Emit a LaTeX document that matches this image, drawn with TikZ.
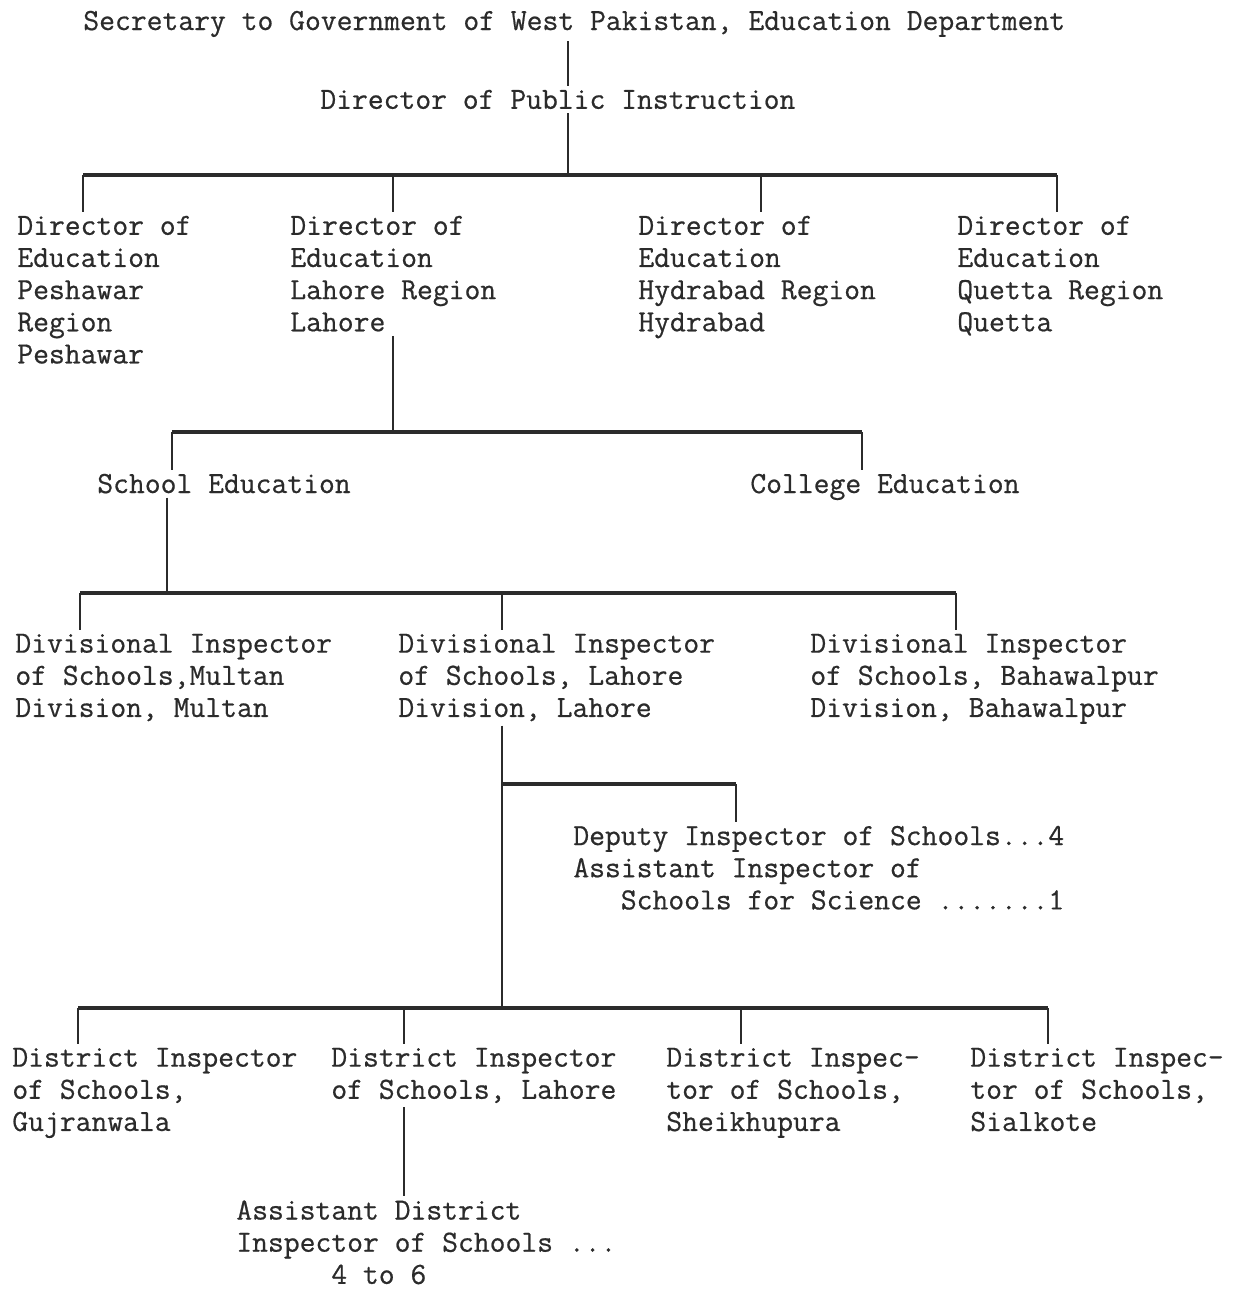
\documentclass[tikz,border=0pt]{standalone}
\usepackage{fontspec}
\setmonofont[FakeBold=0.6]{Latin Modern Mono}
\usepackage{xcolor}
\usepackage{tikz}
\usetikzlibrary{calc}
\definecolor{ink}{HTML}{2B2B2B}
\newcommand{\typefont}{\fontsize{17.5}{18.3}\selectfont\ttfamily}
\tikzset{
  post/.style={anchor=north west,align=left,inner xsep=0pt,inner ysep=0.08cm,
               font=\typefont,text=ink},
  link/.style={draw=ink,line width=0.8pt},
  bar/.style={draw=ink,line width=2pt}
}

\begin{document}
\begin{tikzpicture}[x=0.02cm,y=-0.02cm]
  \useasboundingbox (0,0) rectangle (1241,1292);
  % posts
  \node[post] (sec) at (83,6.5) {Secretary to Government of West Pakistan, Education Department};
  \node[post] (dpi) at (320,85.5) {Director of Public Instruction};
  \node[post] (dpesh) at (17,211.5) {Director of\\Education\\Peshawar\\Region\\Peshawar};
  \node[post] (dlah) at (290,211.5) {Director of\\Education\\Lahore Region\\Lahore};
  \node[post] (dhyd) at (638,211.5) {Director of\\Education\\Hydrabad Region\\Hydrabad};
  \node[post] (dque) at (957,211.5) {Director of\\Education\\Quetta Region\\Quetta};
  \node[post] (school) at (97,469.5) {School Education};
  \node[post] (college) at (750,469.5) {College Education};
  \node[post] (divmul) at (15,629.5) {Divisional Inspector\\of Schools,Multan\\Division, Multan};
  \node[post] (divlah) at (398,629.5) {Divisional Inspector\\of Schools, Lahore\\Division, Lahore};
  \node[post] (divbah) at (810,629.5) {Divisional Inspector\\of Schools, Bahawalpur\\Division, Bahawalpur};
  \node[post] (deputy) at (573,821.5) {Deputy Inspector of Schools...4\\Assistant Inspector of\\\phantom{Ass}Schools for Science .......1};
  \node[post] (distguj) at (12,1043.5) {District Inspector\\of Schools,\\Gujranwala};
  \node[post] (distlah) at (331,1043.5) {District Inspector\\of Schools, Lahore};
  \node[post] (distshe) at (666,1043.5) {District Inspec-\\tor of Schools,\\Sheikhupura};
  \node[post] (distsia) at (970,1043.5) {District Inspec-\\tor of Schools,\\Sialkote};
  \node[post] (adist) at (236,1196) {Assistant District\\Inspector of Schools ...\\\phantom{Assist}4 to 6};
  % top line
  \coordinate (j1) at (568,175);
  \draw[link] (sec.south -| j1) -- (dpi.north -| j1);
  \draw[link] (dpi.south -| j1) -- (j1);
  \foreach \x/\n in {83/dpesh,393/dlah,761/dhyd,1057/dque}{
    \coordinate (t-\n) at (\x,175);
    \draw[link] (t-\n) -- (t-\n |- \n.north);
  }
  \draw[bar] (t-dpesh) -- (t-dque);
  % school / college
  \coordinate (j2) at (393,432);
  \draw[link] (dlah.south -| j2) -- (j2);
  \foreach \x/\n in {172/school,862/college}{
    \coordinate (t-\n) at (\x,432);
    \draw[link] (t-\n) -- (t-\n |- \n.north);
  }
  \draw[bar] (t-school) -- (t-college);
  % divisions
  \coordinate (j3) at (167,593);
  \draw[link] (school.south -| j3) -- (j3);
  \foreach \x/\n in {80/divmul,502/divlah,956/divbah}{
    \coordinate (t-\n) at (\x,593);
    \draw[link] (t-\n) -- (t-\n |- \n.north);
  }
  \draw[bar] (t-divmul) -- (t-divbah);
  % deputy and districts
  \coordinate (j4) at (502,1008);
  \draw[link] (divlah.south -| j4) -- (j4);
  \coordinate (t-deputy) at (736,784);
  \draw[bar] (t-deputy -| j4) -- (t-deputy);
  \draw[link] (t-deputy) -- (t-deputy |- deputy.north);
  \foreach \x/\n in {78/distguj,404/distlah,741/distshe,1048/distsia}{
    \coordinate (t-\n) at (\x,1008);
    \draw[link] (t-\n) -- (t-\n |- \n.north);
  }
  \draw[bar] (t-distguj) -- (t-distsia);
  \draw[link] (distlah.south -| t-distlah) -- (adist.north -| t-distlah);
\end{tikzpicture}
\end{document}
